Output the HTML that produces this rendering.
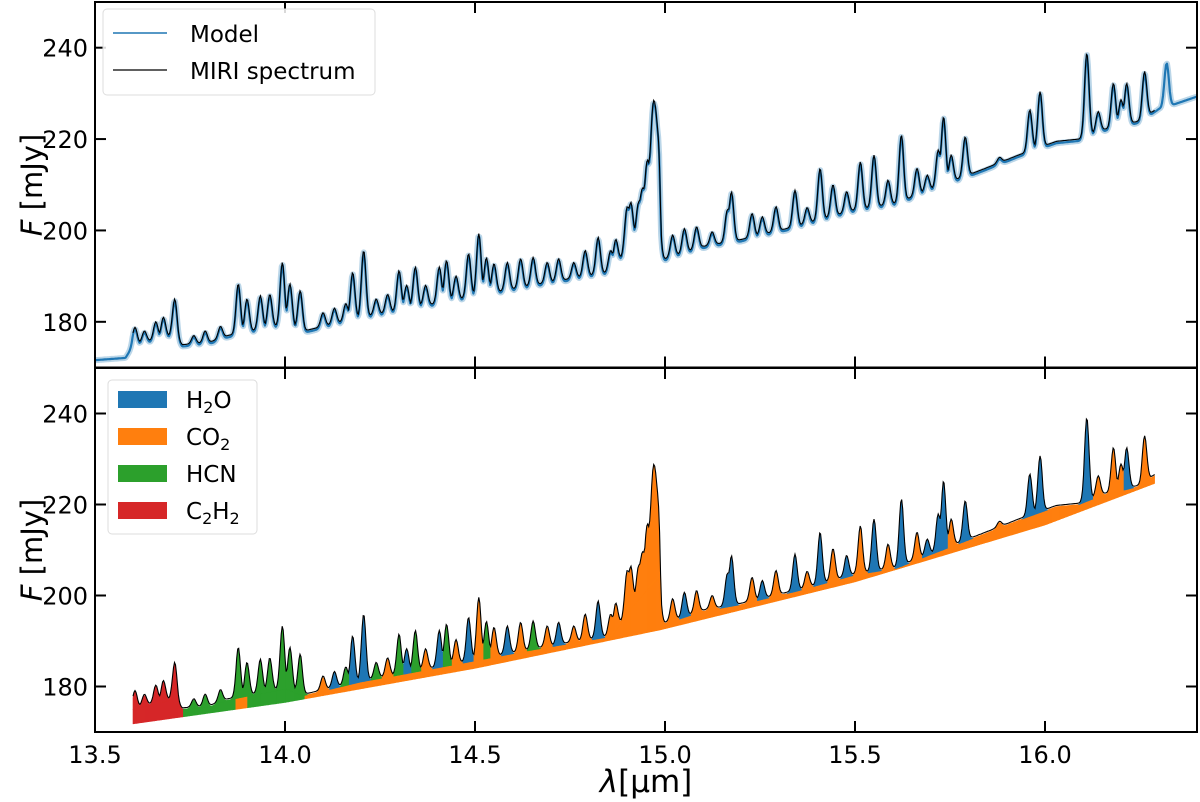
<!DOCTYPE html>
<html><head><meta charset="utf-8">
<style>
html,body{margin:0;padding:0;background:#fff;}
svg{display:block;font-family:"DejaVu Sans","Liberation Sans",sans-serif;}
</style></head>
<body>
<svg id="chart" width="1200" height="802" viewBox="0 0 1200 802" xmlns="http://www.w3.org/2000/svg">
<g id="top"></g>
<g id="bot"></g>
<g id="axes"></g>
<text x="646" y="792" font-size="31" text-anchor="middle"><tspan font-style="italic">λ</tspan>[μm]</text>
<text transform="translate(42,185) rotate(-90)" font-size="29" text-anchor="middle"><tspan font-style="italic">F</tspan> [mJy]</text>
<text transform="translate(42,550) rotate(-90)" font-size="29" text-anchor="middle"><tspan font-style="italic">F</tspan> [mJy]</text>
<g>
<rect x="103" y="9" width="272" height="86" rx="4" fill="#fff" fill-opacity="0.85" stroke="#ddd"/>
<line x1="113" y1="33" x2="167" y2="33" stroke="#1f77b4" stroke-width="1.5"/>
<text x="190" y="42" font-size="23">Model</text>
<line x1="113" y1="70" x2="167" y2="70" stroke="#000" stroke-width="1.2"/>
<text x="190" y="79" font-size="23">MIRI spectrum</text>
</g>
<g>
<rect x="108" y="380" width="149" height="154" rx="4" fill="#fff" fill-opacity="0.85" stroke="#ddd"/>
<rect x="118" y="391" width="49" height="17" fill="#1f77b4"/>
<text x="186" y="408" font-size="23">H<tspan font-size="16" dy="5">2</tspan><tspan dy="-5">O</tspan></text>
<rect x="118" y="428" width="49" height="17" fill="#ff7f0e"/>
<text x="186" y="445" font-size="23">CO<tspan font-size="16" dy="5">2</tspan></text>
<rect x="118" y="465" width="49" height="17" fill="#2ca02c"/>
<text x="186" y="482" font-size="23">HCN</text>
<rect x="118" y="502" width="49" height="17" fill="#d62728"/>
<text x="186" y="519" font-size="23">C<tspan font-size="16" dy="5">2</tspan><tspan dy="-5">H</tspan><tspan font-size="16" dy="5">2</tspan></text>
</g>
</svg>
<script>
// ---- data ----
const xTicks = [13.5, 14.0, 14.5, 15.0, 15.5, 16.0];
const xTickLabels = ["13.5", "14.0", "14.5", "15.0", "15.5", "16.0"];
const yTicks = [180, 200, 220, 240];
const yTickLabels = ["180", "200", "220", "240"];
const speciesNames = ["H2O", "CO2", "HCN", "C2H2"];
const speciesColors = ["#1f77b4", "#ff7f0e", "#2ca02c", "#d62728"];
// observed continuum (lower envelope) [wavelength, flux]
const contWave = [13.5,13.58,13.6,13.7,13.73,13.8,13.85,14.0,14.05,14.2,14.3,14.46,14.65,14.86,14.9,14.95,14.985,14.99,15.1,15.2,15.35,15.5,15.61,15.7,15.84,15.93,16.03,16.09,16.15,16.25,16.3,16.34,16.4];
const contFlux = [172,172.5,175,177,175,175.5,177,179.5,178,181,182.5,185,188,191,196,201,204,193.5,196.5,198,201,204.5,206,209,213.5,216.5,219.5,220,222,224,227,228,229.7];
// emission line peaks: wavelength, peak flux, dominant species index
const lineWave = [13.605,13.63,13.66,13.68,13.71,13.76,13.79,13.83,13.877,13.9,13.935,13.96,13.993,14.013,14.04,14.1,14.13,14.16,14.178,14.207,14.24,14.27,14.3,14.32,14.343,14.37,14.406,14.425,14.45,14.483,14.51,14.53,14.55,14.585,14.62,14.653,14.69,14.72,14.76,14.79,14.824,14.857,14.87,14.9,14.91,14.93,14.94,14.95,14.955,14.965,14.971,14.978,14.983,15.02,15.051,15.083,15.124,15.164,15.175,15.229,15.256,15.292,15.342,15.374,15.408,15.442,15.478,15.514,15.55,15.587,15.622,15.663,15.69,15.719,15.733,15.753,15.79,15.88,15.96,15.987,16.11,16.14,16.18,16.2,16.215,16.262];
const linePeak = [178.8,178,180,181,185,177,178,179,188.3,185,185.7,186,193,188.3,186.8,182,183,184,190.8,195.6,185,186,191.2,188,192,188,192,193.4,190,194.9,199.3,194,192.7,193,193.8,194.1,193,193.8,193,195.6,198.5,195.6,198,205,206,206,209,211,214,220,226.7,222,214,199,200.4,200.8,199.7,204.4,208.4,203.7,203,205.2,208.8,205,213.6,210,208.5,215,216.5,211,220.9,213.6,212.1,217.6,224.9,216.5,220.5,216,226.4,230.4,238.8,226,232.2,228.6,232.2,234.8];
const lineSpecies = [3,3,3,3,3,2,2,2,2,2,2,2,2,2,2,1,0,2,0,0,2,1,2,0,2,1,0,2,1,0,1,2,1,0,1,2,1,0,1,1,0,1,1,1,1,1,1,1,1,1,1,1,1,1,0,1,1,0,0,1,0,1,0,1,0,1,0,1,0,1,0,1,0,0,0,1,0,1,0,0,0,1,1,1,0,1];
// model-only lines
const modelLineWave = [16.32];
const modelLinePeak = [237];
// bottom-panel fill base [wavelength, flux]
const baseWave = [13.6,14.0,14.5,14.99,15.5,16.0,16.3];
const baseFlux = [171.8,176.5,184,192.5,203,215.5,225];
// species of the band between fill base and continuum
const bandStart = [13.6,13.73,13.87,13.9,14.05];
const bandEnd = [13.73,13.87,13.9,14.05,16.3];
const bandSpecies = [3,2,1,2,1];
const obsRange = [13.6, 16.29];
const modelRange = [13.5, 16.4];

// ---- scales ----
const X0=95, X1=1197, XMIN=13.5, XMAX=16.4;
const panels = [{top:2,bottom:367.5,id:"top"},{top:368,bottom:732,id:"bot"}];
const YMIN=170, YMAX=250;
function xs(l){return X0+(l-XMIN)/(XMAX-XMIN)*(X1-X0);}
function ys(v,p){return p.bottom-(v-YMIN)/(YMAX-YMIN)*(p.bottom-p.top);}
function interp(xa,ya,x){
  if(x<=xa[0])return ya[0];
  for(let i=1;i<xa.length;i++){if(x<=xa[i]){const t=(x-xa[i-1])/(xa[i]-xa[i-1]);return ya[i-1]+t*(ya[i]-ya[i-1]);}}
  return ya[ya.length-1];
}
const SIG=0.0058;
function evalSpec(l, withModel){
  const c=interp(contWave,contFlux,l);
  let best=0, second=0, who=-1;
  for(let i=0;i<lineWave.length;i++){
    const d=l-lineWave[i]; if(Math.abs(d)>0.04)continue;
    const h=linePeak[i]-interp(contWave,contFlux,lineWave[i]);
    const v=h*Math.exp(-0.5*(d/SIG)*(d/SIG));
    if(v>best){second=best;best=v;who=i;}else if(v>second){second=v;}
  }
  if(withModel){
    for(let i=0;i<modelLineWave.length;i++){
      const d=l-modelLineWave[i];
      const h=modelLinePeak[i]-interp(contWave,contFlux,modelLineWave[i]);
      const v=h*Math.exp(-0.5*(d/SIG)*(d/SIG));
      if(v>best){best=v;who=-1;}
    }
  }
  return {f:c+best+0.35*second*(best>0?second/best:0),c:c,who:who};
}
const NS="http://www.w3.org/2000/svg";
function mk(tag,attrs,parent){const e=document.createElementNS(NS,tag);for(const k in attrs)e.setAttribute(k,attrs[k]);parent.appendChild(e);return e;}
const STEP=0.0026;
function samples(r,wm){const a=[];for(let l=r[0];l<=r[1]+1e-9;l+=STEP)a.push([l,evalSpec(l,wm)]);return a;}

const defs=mk("defs",{},document.getElementById("chart"));
panels.forEach((p,i)=>{const cp=mk("clipPath",{id:"clip"+i},defs);mk("rect",{x:X0,y:p.top,width:X1-X0,height:p.bottom-p.top},cp);});

// top panel
const P0=panels[0], gT=document.getElementById("top");
gT.setAttribute("clip-path","url(#clip0)");
const mod=samples(modelRange,true);
const modPts=mod.map(s=>xs(s[0]).toFixed(1)+","+ys(s[1].f-0.4,P0).toFixed(1)).join(" ");
const glow=mk("polyline",{points:modPts,fill:"none",stroke:"#1f77b4","stroke-opacity":"0.3","stroke-width":"6","stroke-linejoin":"round"},gT);


const ml=mk("polyline",{points:modPts,fill:"none",stroke:"#1f77b4","stroke-width":"2.2","stroke-linejoin":"round"},gT);


const obs=samples(obsRange,false);
const obsPtsTop=obs.map(s=>xs(s[0]).toFixed(1)+","+ys(s[1].f,P0).toFixed(1)).join(" ");
const ol=mk("polyline",{points:obsPtsTop,fill:"none",stroke:"#000","stroke-width":"1.1"},gT);



// bottom panel
const P1=panels[1], gB=document.getElementById("bot");
gB.setAttribute("clip-path","url(#clip1)");
function bandSp(l){for(let i=0;i<bandStart.length;i++){if(l>=bandStart[i]&&l<bandEnd[i])return bandSpecies[i];}return 1;}
for(let k=0;k<obs.length-1;k++){
  const l0=obs[k][0], l1=obs[k+1][0];
  const sp=bandSp(l0);
  const pts=[[l0,interp(baseWave,baseFlux,l0)],[l1,interp(baseWave,baseFlux,l1)],[l1,obs[k+1][1].c],[l0,obs[k][1].c]];
  const poly=mk("polygon",{points:pts.map(q=>xs(q[0]).toFixed(1)+","+ys(q[1],P1).toFixed(1)).join(" "),fill:speciesColors[sp],stroke:speciesColors[sp],"stroke-width":"0.6"},gB);
  
  
}
for(let k=0;k<obs.length-1;k++){
  const a=obs[k], b=obs[k+1];
  if(a[1].f-a[1].c<0.05 && b[1].f-b[1].c<0.05)continue;
  const w=a[1].who>=0?a[1].who:b[1].who;
  const sp=w>=0?lineSpecies[w]:1;
  const pts=[[a[0],a[1].c],[b[0],b[1].c],[b[0],b[1].f],[a[0],a[1].f]];
  const poly=mk("polygon",{points:pts.map(q=>xs(q[0]).toFixed(1)+","+ys(q[1],P1).toFixed(1)).join(" "),fill:speciesColors[sp],stroke:speciesColors[sp],"stroke-width":"0.6"},gB);
  
  
}
const obsPtsBot=obs.map(s=>xs(s[0]).toFixed(1)+","+ys(s[1].f+0.3,P1).toFixed(1)).join(" ");
const ol2=mk("polyline",{points:obsPtsBot,fill:"none",stroke:"#000","stroke-width":"1.1"},gB);



// axes
const gA=document.getElementById("axes");
panels.forEach((p,pi)=>{
  const fr=mk("rect",{x:X0,y:p.top,width:X1-X0,height:p.bottom-p.top,fill:"none",stroke:"#000","stroke-width":"2"},gA);
  
  
  yTicks.forEach((v,i)=>{
    const y=ys(v,p);
    const t=mk("line",{x1:X0,y1:y,x2:X0+11,y2:y,stroke:"#000","stroke-width":"2"},gA);
    
    
    const t2=mk("line",{x1:X1-11,y1:y,x2:X1,y2:y,stroke:"#000","stroke-width":"2"},gA);
    
    
    const tx=mk("text",{x:X0-7,y:y+9,"font-size":"24","text-anchor":"end"},gA);
    tx.textContent=yTickLabels[i];
    
    
  });
  xTicks.forEach((v,i)=>{
    const x=xs(v);
    const t=mk("line",{x1:x,y1:p.bottom,x2:x,y2:p.bottom-11,stroke:"#000","stroke-width":"2"},gA);
    
    
    const t2=mk("line",{x1:x,y1:p.top,x2:x,y2:p.top+11,stroke:"#000","stroke-width":"2"},gA);
    
    
    if(pi===1){
      const tx=mk("text",{x:x,y:p.bottom+31,"font-size":"24","text-anchor":"middle"},gA);
      tx.textContent=xTickLabels[i];
      
      
    }
  });
});
</script>
</body></html>
